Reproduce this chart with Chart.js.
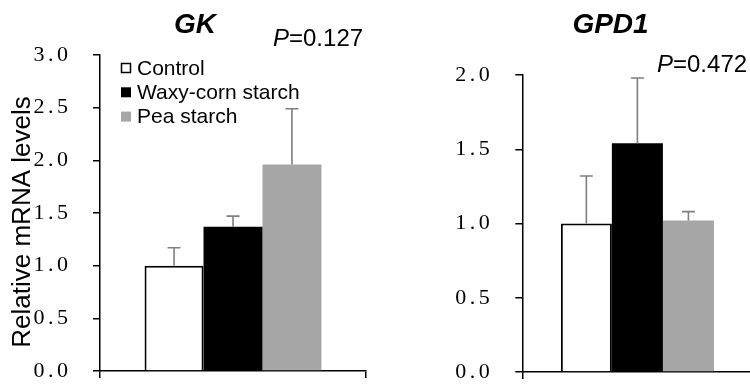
<!DOCTYPE html>
<html>
<head>
<meta charset="utf-8">
<script src="https://cdn.jsdelivr.net/npm/chart.js@4/dist/chart.umd.min.js"></script>
<style>
html,body{margin:0;padding:0;background:#fff;overflow:hidden;width:750px;height:386px;}
.box{position:absolute;top:0;width:380px;height:386px;}
</style>
</head>
<body>
<div class="box" style="left:0"><canvas id="c1" width="380" height="386"></canvas></div>
<div class="box" style="left:380px"><canvas id="c2" width="380" height="386"></canvas></div>
<script>
// ---- data ----
const groups = ['Control', 'Waxy-corn starch', 'Pea starch'];
const groupColors = ['#ffffff', '#000000', '#a6a6a6'];
const gkMean = [1.00, 1.37, 1.96];
const gkSD = [0.17, 0.10, 0.53];
const gpd1Mean = [1.00, 1.54, 1.02];
const gpd1SD = [0.32, 0.44, 0.06];
const gkTicks = [0, 0.5, 1.0, 1.5, 2.0, 2.5, 3.0];
const gpd1Ticks = [0, 0.5, 1.0, 1.5, 2.0];
const gkTitle = 'GK';
const gpd1Title = 'GPD1';
const gkP = '0.127';
const gpd1P = '0.472';
const yTitle = 'Relative mRNA levels';

const SANS = '"Liberation Sans", Arial, sans-serif';
const SERIF = '"Liberation Serif", "Times New Roman", serif';

function makeDatasets(means) {
  return groups.map((g, i) => ({
    label: g,
    data: [means[i]],
    backgroundColor: groupColors[i],
    borderColor: '#000000',
    borderWidth: i === 0 ? 2 : 0,
    borderSkipped: 'start',
    categoryPercentage: 0.665,
    barPercentage: 1.0
  }));
}

const errorBarPlugin = {
  id: 'errbars',
  afterDatasetsDraw(chart, args, opts) {
    const ctx = chart.ctx;
    const ys = chart.scales.y;
    ctx.save();
    ctx.letterSpacing = '0px';
    ctx.strokeStyle = '#7f7f7f';
    ctx.lineWidth = 1.6;
    opts.sd.forEach((sd, i) => {
      const bar = chart.getDatasetMeta(i).data[0];
      const top = ys.getPixelForValue(opts.mean[i] + sd);
      ctx.beginPath();
      ctx.moveTo(bar.x, bar.y);
      ctx.lineTo(bar.x, top);
      ctx.moveTo(bar.x - 6.5, top);
      ctx.lineTo(bar.x + 6.5, top);
      ctx.stroke();
    });
    ctx.restore();
  }
};

const spacingPlugin = {
  id: 'spacing',
  beforeDraw(chart) { chart.ctx.letterSpacing = '3.5px'; },
  beforeDatasetsDraw(chart) { chart.ctx.letterSpacing = '0px'; },
  afterDraw(chart) { chart.ctx.letterSpacing = '0px'; }
};

const textPlugin = {
  id: 'texts',
  afterDraw(chart, args, o) {
    const ctx = chart.ctx;
    ctx.save();
    ctx.letterSpacing = '0px';
    ctx.fillStyle = '#000';
    // title
    ctx.font = 'italic bold 28px ' + SANS;
    ctx.textAlign = 'center';
    ctx.textBaseline = 'alphabetic';
    ctx.fillText(o.title, o.titleX, 32.5);
    // P value
    ctx.textAlign = 'left';
    ctx.font = 'italic 24px ' + SANS;
    ctx.fillText('P', o.pX, o.pY);
    const pw = ctx.measureText('P').width;
    ctx.font = '24px ' + SANS;
    ctx.fillText('=' + o.p, o.pX + pw, o.pY);
    // y title
    if (o.yTitle) {
      ctx.save();
      ctx.translate(30, 222);
      ctx.rotate(-Math.PI / 2);
      ctx.font = '26px ' + SANS;
      ctx.textAlign = 'center';
      ctx.fillText(o.yTitle, 0, 0);
      ctx.restore();
    }
    // legend
    if (o.legend) {
      chart.data.datasets.forEach((ds, i) => {
        const cy = 68 + i * 24.3;
        ctx.fillStyle = ds.backgroundColor;
        ctx.fillRect(121, cy - 5, 10, 10);
        if (i === 0) {
          ctx.strokeStyle = '#000';
          ctx.lineWidth = 1.5;
          ctx.strokeRect(121.5, cy - 4.5, 9, 9);
        }
        ctx.fillStyle = '#000';
        ctx.font = '21px ' + SANS;
        ctx.textAlign = 'left';
        ctx.textBaseline = 'middle';
        ctx.fillText(ds.label, 137, cy + 1);
      });
    }
    ctx.restore();
  }
};

function makeChart(id, means, sds, tickVals, max, layout, texts) {
  return new Chart(document.getElementById(id), {
    type: 'bar',
    data: { labels: [''], datasets: makeDatasets(means) },
    plugins: [spacingPlugin, errorBarPlugin, textPlugin],
    options: {
      responsive: false,
      animation: false,
      layout: { padding: layout.padding, autoPadding: false },
      plugins: {
        legend: { display: false },
        tooltip: { enabled: false },
        title: { display: false },
        errbars: { mean: means, sd: sds },
        texts: texts
      },
      scales: {
        x: {
          grid: { display: true, offset: true, drawOnChartArea: false, drawTicks: true, tickLength: 7, color: '#000', lineWidth: 1.5 },
          border: { display: true, color: '#000', width: 1.5 },
          ticks: { display: false },
          afterFit(s) { s.height = layout.xHeight; s.paddingLeft = 0; s.paddingRight = 0; }
        },
        y: {
          min: 0,
          max: max,
          afterBuildTicks(s) { s.ticks = tickVals.map(v => ({ value: v })); },
          grid: { display: true, drawOnChartArea: false, drawTicks: true, tickLength: 7, color: '#000', lineWidth: 1.5 },
          border: { display: true, color: '#000', width: 1.5 },
          ticks: {
            font: { family: SERIF, size: 22 },
            color: '#000',
            padding: layout.tickPad,
            callback: v => v.toFixed(1)
          },
          afterFit(s) { s.width = layout.yWidth; s.paddingTop = 0; s.paddingBottom = 0; }
        }
      }
    }
  });
}

makeChart('c1', gkMean, gkSD, gkTicks, 3.0,
  { padding: { left: 0, right: 14, top: 55, bottom: 0 }, xHeight: 15, yWidth: 100, tickPad: 21.5 },
  { title: gkTitle, titleX: 195, p: gkP, pX: 273, pY: 46, yTitle: yTitle, legend: true });

makeChart('c2', gpd1Mean, gpd1SD, gpd1Ticks, 2.0,
  { padding: { left: 0, right: 7.5, top: 75, bottom: 0 }, xHeight: 14, yWidth: 142.3, tickPad: 22 },
  { title: gpd1Title, titleX: 230.5, p: gpd1P, pX: 277, pY: 72, yTitle: null, legend: false });
</script>
</body>
</html>
